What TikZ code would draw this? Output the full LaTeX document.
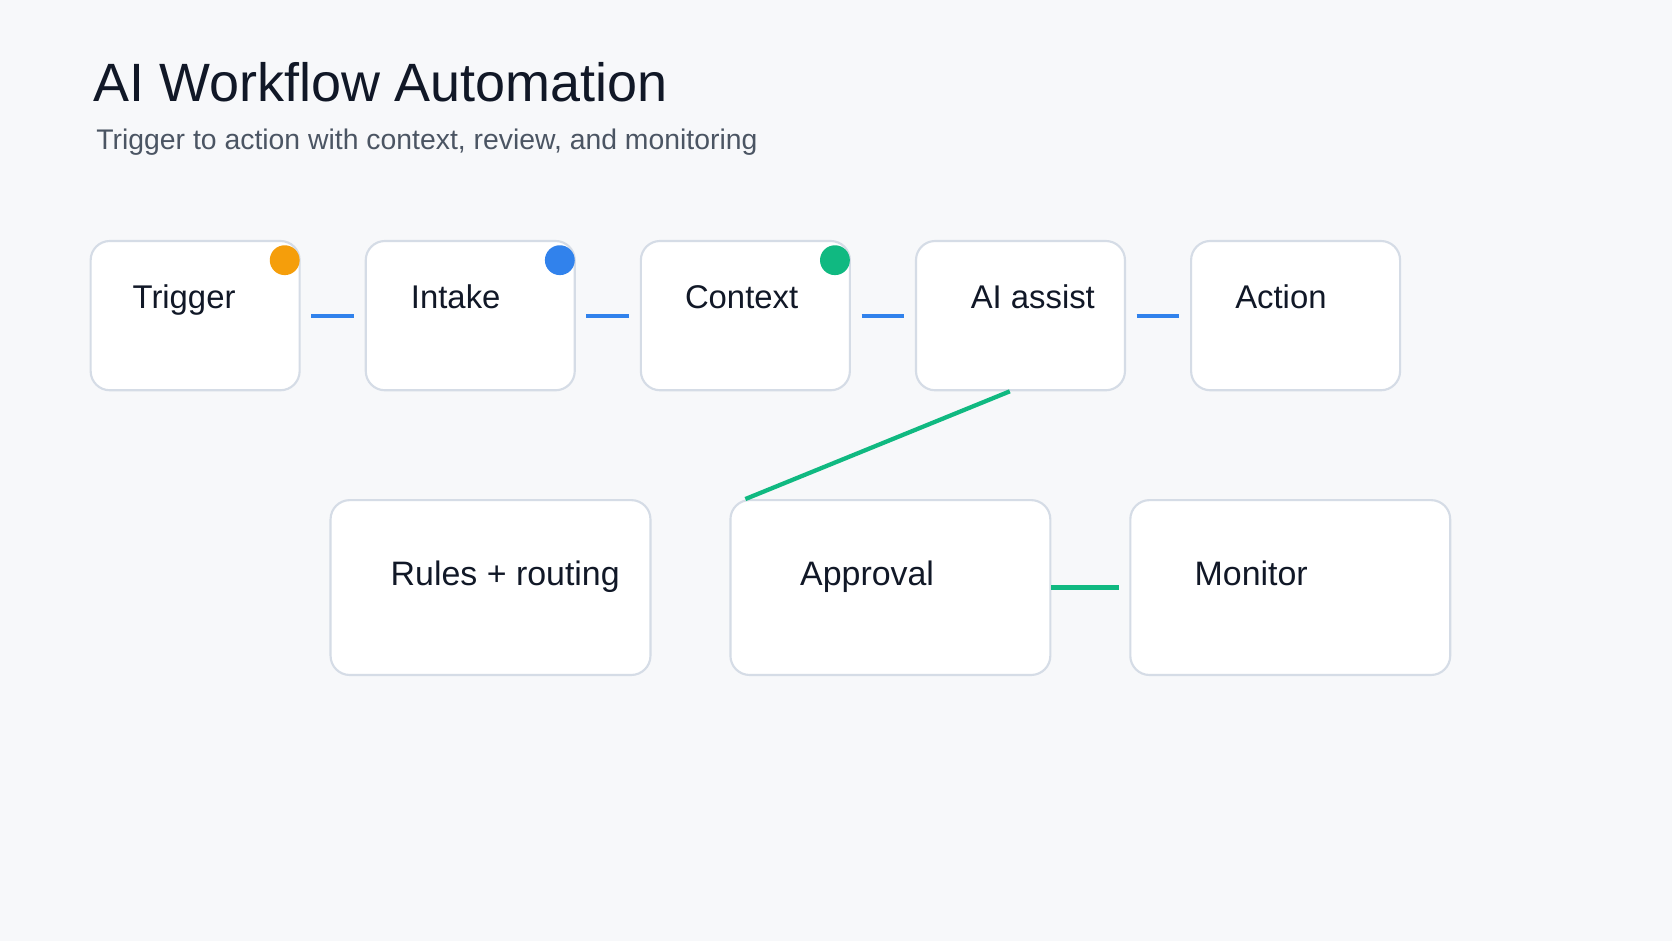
\documentclass[tikz,border=0pt]{standalone}
\usepackage{fontspec}
\setmainfont{Liberation Sans}
\definecolor{bg}{HTML}{F7F8FA}
\definecolor{bd}{HTML}{D5DCE6}
\definecolor{tx}{HTML}{111827}
\definecolor{sub}{HTML}{4B5563}
\definecolor{cblue}{HTML}{3182EC}
\definecolor{cgreen}{HTML}{10B981}
\definecolor{corange}{HTML}{F59E0B}
\begin{document}
\begin{tikzpicture}[x=0.5pt,y=-0.5pt,
  box/.style={draw=bd,line width=1pt,fill=white,rounded corners=9pt,inner sep=0pt},
  lbl/.style={anchor=base west,text=tx,font=\fontsize{15.4}{18}\selectfont,inner sep=0pt},
  lblb/.style={lbl,font=\fontsize{15.9}{18}\selectfont},
  dotc/.style={circle,inner sep=0pt,minimum size=14pt},
  bl/.style={draw=cblue,line width=2pt,shorten <=5pt,shorten >=5pt},
  gl/.style={draw=cgreen,line width=2pt}]
\fill[bg] (0,0) rectangle (1568,882);
\useasboundingbox (0,0) rectangle (1568,882);
\node[anchor=base west,text=tx,font=\fontsize{25.3}{30}\selectfont,inner sep=0pt] (title) at (87,95) {AI Workflow Automation};
\node[anchor=base west,text=sub,font=\fontsize{13.3}{16}\selectfont,inner sep=0pt] (subtitle) at (90,140) {Trigger to action with context, review, and monitoring};
% top row
\foreach \n/\x in {b1/183,b2/441,b3/699,b4/957,b5/1215}
  \node[box,minimum width=98pt,minimum height=70pt] (\n) at (\x,296) {};
\node[lbl] (t1) at (124,289) {Trigger};
\node[lbl] (t2) at (385,289) {Intake};
\node[lbl] (t3) at (642,289) {Context};
\node[lbl] (t4) at (910,289) {AI assist};
\node[lbl] (t5) at (1158,289) {Action};
\node[dotc,fill=corange] (d1) at (267,244) {};
\node[dotc,fill=cblue] (d2) at (525,244) {};
\node[dotc,fill=cgreen] (d3) at (783,244) {};
\draw[bl] (b1.east) -- (b2.west);
\draw[bl] (b2.east) -- (b3.west);
\draw[bl] (b3.east) -- (b4.west);
\draw[bl] (b4.east) -- (b5.west);
% bottom row
\node[box,minimum width=150pt,minimum height=82pt] (r1) at (460,551) {};
\node[box,minimum width=150pt,minimum height=82pt] (r2) at (835,551) {};
\node[box,minimum width=150pt,minimum height=82pt] (r3) at (1210,551) {};
\node[lblb] (u1) at (366,549) {Rules + routing};
\node[lblb] (u2) at (750,549) {Approval};
\node[lblb] (u3) at (1120,549) {Monitor};
\coordinate (ca) at ([xshift=-5pt]b4.south);
\coordinate (cb) at ([xshift=-68pt]r2.north);
\draw[gl] (ca) -- (cb);
\draw[gl,shorten >=5pt] (r2.east) -- (r3.west);
\end{tikzpicture}
\end{document}
